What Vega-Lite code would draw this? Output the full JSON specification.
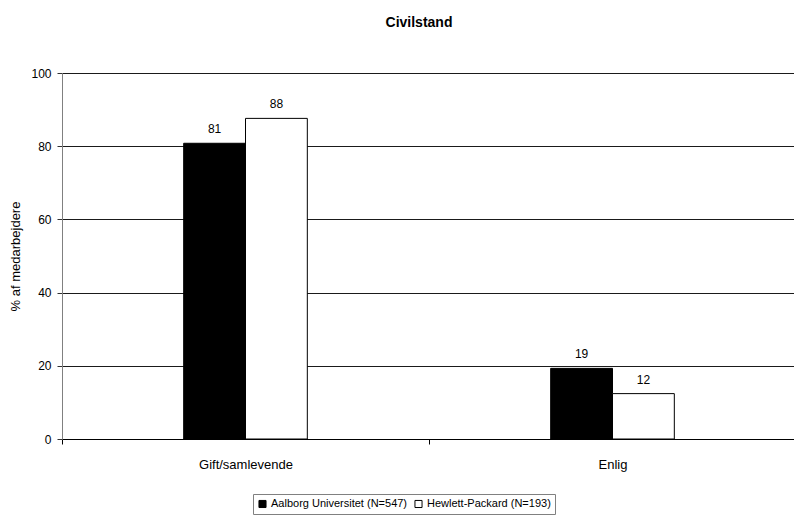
{
  "$schema": "https://vega.github.io/schema/vega-lite/v6.json",
  "autosize": {"type": "none"},
  "width": 734,
  "height": 366,
  "padding": {"left": 62, "top": 73, "right": 0, "bottom": 81},
  "background": "white",
  "config": {
    "font": "Liberation Sans",
    "view": {"stroke": null}
  },
  "title": {
    "text": "Civilstand",
    "fontSize": 14,
    "fontWeight": "bold",
    "font": "Liberation Sans",
    "color": "black",
    "anchor": "middle",
    "offset": 37,
    "dx": -10
  },
  "data": {
    "values": [
      {"kategori": "Gift/samlevende", "gruppe": "Aalborg Universitet (N=547)", "pct": 80.8},
      {"kategori": "Gift/samlevende", "gruppe": "Hewlett-Packard (N=193)", "pct": 87.6},
      {"kategori": "Enlig", "gruppe": "Aalborg Universitet (N=547)", "pct": 19.3},
      {"kategori": "Enlig", "gruppe": "Hewlett-Packard (N=193)", "pct": 12.4}
    ]
  },
  "encoding": {
    "x": {
      "field": "kategori",
      "type": "nominal",
      "sort": ["Gift/samlevende", "Enlig"],
      "scale": {"paddingInner": 0, "paddingOuter": 0},
      "axis": {
        "title": null,
        "labelAngle": 0,
        "labelFontSize": 13,
        "labelColor": "black",
        "labelPadding": 14,
        "tickBand": "extent",
        "tickColor": "black",
        "tickSize": 5,
        "domainColor": "black",
        "grid": false
      }
    },
    "xOffset": {
      "field": "gruppe",
      "type": "nominal",
      "scale": {
        "domain": ["_pad1", "Aalborg Universitet (N=547)", "Hewlett-Packard (N=193)", "_pad2"],
        "paddingInner": 0,
        "paddingOuter": 0.968
      }
    },
    "y": {
      "field": "pct",
      "type": "quantitative",
      "scale": {"domain": [0, 100], "nice": false},
      "axis": {
        "title": "% af medarbejdere",
        "titleFontSize": 13,
        "titleFontWeight": "normal",
        "titleColor": "black",
        "titlePadding": 8,
        "values": [0, 20, 40, 60, 80, 100],
        "labelFontSize": 12,
        "labelColor": "black",
        "labelPadding": 6,
        "tickSize": 5,
        "tickColor": "#333333",
        "domainColor": "#808080",
        "grid": true,
        "gridColor": "#1a1a1a",
        "gridWidth": 1
      }
    }
  },
  "layer": [
    {
      "mark": {"type": "bar", "stroke": "black", "strokeWidth": 1},
      "encoding": {
        "fill": {
          "field": "gruppe",
          "type": "nominal",
          "scale": {"domain": ["Aalborg Universitet (N=547)", "Hewlett-Packard (N=193)"], "range": ["black", "white"]},
          "legend": {
            "title": null,
            "orient": "none",
            "legendX": 191,
            "legendY": 421,
            "direction": "horizontal",
            "symbolType": "square",
            "symbolSize": 50,
            "symbolStrokeColor": "black",
            "symbolStrokeWidth": 1,
            "labelFontSize": 11,
            "labelColor": "black",
            "labelOffset": 3,
            "columnPadding": 4,
            "strokeColor": "#808080",
            "padding": 4,
            "fillColor": "white"
          }
        }
      }
    },
    {
      "mark": {"type": "text", "baseline": "bottom", "dy": -7, "fontSize": 12, "color": "black"},
      "encoding": {
        "text": {"field": "pct", "type": "quantitative", "format": ".0f"}
      }
    }
  ]
}
